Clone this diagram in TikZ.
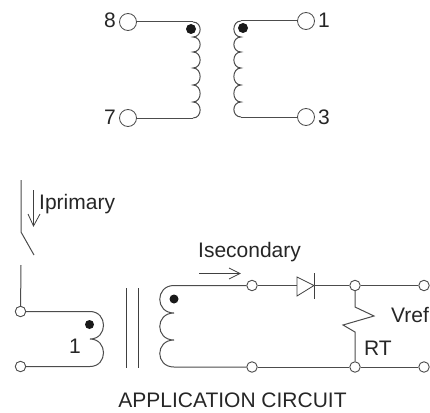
\documentclass[tikz,border=0pt]{standalone}
\usepackage{fontspec}
\setmainfont{Liberation Sans}
\definecolor{wire}{gray}{0.3}
\tikzset{
  wirepath/.style={draw=wire,line width=1pt},
  termbig/.style={circle,draw=wire,line width=0.8pt,fill=white,minimum size=17pt,inner sep=0pt},
  termsmall/.style={circle,draw=wire,line width=0.9pt,fill=white,minimum size=10.5pt,inner sep=0pt},
  dotmark/.style={circle,fill=black!90,minimum size=#1,inner sep=0pt},
  lbl/.style={font=\fontsize{21}{24}\selectfont,text=black!85,inner sep=0pt,anchor=base west},
  thinline/.style={draw=black!75,line width=0.8pt},
}
\begin{document}
\begin{tikzpicture}[x=1pt,y=-1pt]
\useasboundingbox (0,0) rectangle (430,412);
% top transformer
\coordinate (a0) at (193,22);
\coordinate (b0) at (241,21);
\draw[wirepath] (193,22) .. controls (202.5,22) and (202.5,37) .. (193,37)
  .. controls (202.5,37) and (202.5,52) .. (193,52)
  .. controls (202.5,52) and (202.5,68) .. (193,68)
  .. controls (202.5,68) and (202.5,85) .. (193,85)
  .. controls (202.5,85) and (202.5,102) .. (193,102)
  .. controls (202.5,102) and (202.5,118) .. (193,118);
\draw[wirepath] (241,21) .. controls (231.5,21) and (231.5,37) .. (241,37)
  .. controls (231.5,37) and (231.5,52) .. (241,52)
  .. controls (231.5,52) and (231.5,68) .. (241,68)
  .. controls (231.5,68) and (231.5,85) .. (241,85)
  .. controls (231.5,85) and (231.5,102) .. (241,102)
  .. controls (231.5,102) and (231.5,117) .. (241,117);
\coordinate (a1) at (193,118);
\coordinate (b1) at (241,117);
\node[termbig] (t8) at (128,22) {};
\node[termbig] (t7) at (128,118) {};
\node[termbig] (t1) at (306,21) {};
\node[termbig] (t3) at (306,117) {};
\draw[wirepath] (t8) -- (a0);
\draw[wirepath] (t7) -- (a1);
\draw[wirepath] (t1) -- (b0);
\draw[wirepath] (t3) -- (b1);
\node[dotmark=10pt] (d1) at (191,29) {};
\node[dotmark=10pt] (d2) at (243,28) {};
\node[lbl] (l8) at (104,28) {8};
\node[lbl] (l7) at (104,124) {7};
\node[lbl] (l1) at (318,28) {1};
\node[lbl] (l3) at (318,124) {3};
% switch and primary
\coordinate (s0) at (21,180);
\coordinate (s1) at (21,232);
\coordinate (s2) at (34,255);
\coordinate (s3) at (21,265);
\node[termsmall] (p1) at (20.5,311.5) {};
\node[termsmall] (p2) at (20.5,366.5) {};
\draw[wirepath] (s0) -- (s1) -- (s2);
\draw[wirepath] (s3) -- (p1);
\coordinate (pa) at (90,311.5);
\coordinate (pb) at (90,366.5);
\draw[wirepath] (p1) -- (pa) .. controls (108,311.5) and (108,339) .. (90,339)
  .. controls (108,339) and (108,366.5) .. (pb) -- (p2);
\node[dotmark=9pt] (d3) at (89.5,324.5) {};
\node[lbl] (l11) at (69,353) {1};
\draw[thinline] (33.5,190) -- (33.5,226);
\draw[thinline] (28,214) -- (33.5,226) -- (40,214);
\node[lbl] (lp) at (39,209) {Iprimary};
% core
\draw[thinline] (126,288) -- (126,368);
\draw[thinline] (138,288) -- (138,368);
% secondary
\coordinate (sa) at (174,285.5);
\coordinate (sb) at (174,367);
\node[termsmall] (c1) at (252,285.5) {};
\node[termsmall] (c2) at (252,367) {};
\node[termsmall] (c3) at (355,285.5) {};
\node[termsmall] (c4) at (355,367) {};
\node[termsmall] (c5) at (424,285.5) {};
\node[termsmall] (c6) at (424,367) {};
\draw[wirepath] (c1) -- (sa) .. controls (155,285.5) and (155,313) .. (174,313)
  .. controls (155,313) and (155,340) .. (174,340)
  .. controls (155,340) and (155,367) .. (sb) -- (c2);
\node[dotmark=9pt] (d4) at (174,299) {};
\coordinate (da) at (297,285.5);
\coordinate (db) at (314,285.5);
\draw[wirepath] (c1) -- (da);
\draw[thinline] (297,277) -- (314,285.5) -- (297,296) -- cycle;
\draw[thinline] (314,273) -- (314,299);
\draw[wirepath] (db) -- (c3);
\draw[wirepath] (c3) -- (c5);
\draw[wirepath] (c2) -- (c4);
\draw[wirepath] (c4) -- (c6);
\coordinate (r1) at (355,307);
\coordinate (r2) at (374,316);
\coordinate (r3) at (343,325);
\coordinate (r4) at (355,332);
\draw[wirepath] (c3) -- (r1) -- (r2) -- (r3) -- (r4) -- (c4);
\draw[thinline] (199,273.5) -- (240,273.5);
\draw[thinline] (229,268) -- (240,273.5) -- (229,279);
\node[lbl] (ls) at (198,257) {Isecondary};
\node[lbl] (lv) at (391,322) {Vref};
\node[lbl] (lr) at (364,355) {RT};
\node[lbl,anchor=base] (lt) at (232.5,407) {APPLICATION CIRCUIT};
\end{tikzpicture}
\end{document}
